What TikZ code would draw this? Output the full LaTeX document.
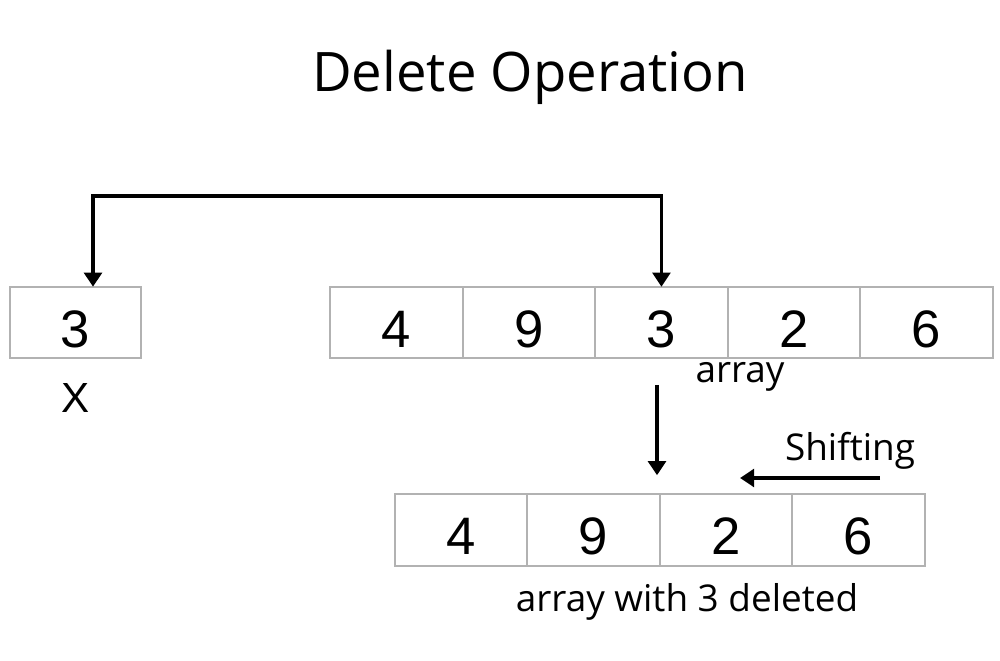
\documentclass[tikz,border=0pt]{standalone}
\usepackage{fontspec}
\setmainfont{Open Sans}
\newfontfamily\digitfont{Liberation Sans}
\usetikzlibrary{arrows.meta,positioning}

\begin{document}
\begin{tikzpicture}[
		x=0.02cm, y=-0.02cm,
		arrow/.style={-{Triangle[width=10pt,length=8pt]}, line width=2pt},
		twoway/.style={{Triangle[width=10pt,length=8pt]}-{Triangle[width=10pt,length=8pt]}, line width=2pt},
		cell/.style={draw=gray!60, line width=1pt, outer sep=0pt, inner sep=0pt, minimum width=2.65cm, minimum height=1.43cm, text height=1cm, text depth=0cm, font=\digitfont\fontsize{30}{30}\selectfont},
		caption/.style={font=\fontsize{21}{21}\selectfont},
	]
		\useasboundingbox (0,0) rectangle (1000,661);
		\node [font=\fontsize{31}{31}\selectfont] (title) at (530,77) {Delete Operation};

		% the deleted value
		\node [cell, minimum width=2.62cm] (x) at (75.5,322.5) {3};
		\node [font=\digitfont\fontsize{24}{24}\selectfont, below=0.38cm of x] (xname) {X};

		% original array
		\node [cell] (a1) at (396.5,322.5) {4};
		\node [cell, right=0pt of a1] (a2) {9};
		\node [cell, right=0pt of a2] (a3) {3};
		\node [cell, right=0pt of a3] (a4) {2};
		\node [cell, right=0pt of a4] (a5) {6};
		\node [caption] (aname) at (740,377) {array};

		% array after deletion
		\node [cell] (b1) at (461,530) {4};
		\node [cell, right=0pt of b1] (b2) {9};
		\node [cell, right=0pt of b2] (b3) {2};
		\node [cell, right=0pt of b3] (b4) {6};
		\node [caption] (bname) at (687,602) {array with 3 deleted};

		\coordinate (turn) at (93,196);
		\draw [twoway] (turn |- x.north) -- (turn) -| (a3.north);

		\coordinate (down) at (657,385);
		\draw [arrow, shorten >=0.38cm] (down) -- (down |- b2.north);

		\node [caption] (shift) at (850,451) {Shifting};
		\coordinate (shift start) at (880,478);
		\coordinate (shift end) at (740,478);
		\draw [arrow] (shift start) -- (shift end);
	\end{tikzpicture}
\end{document}
